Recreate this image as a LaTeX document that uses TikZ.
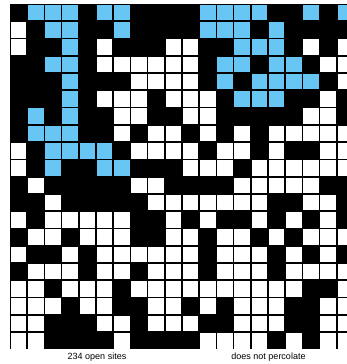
\documentclass[tikz,border=0pt]{standalone}
\usepackage{fontspec}
\setmainfont{Liberation Sans}
\definecolor{fullblue}{RGB}{103,198,243}
\begin{document}
\begin{tikzpicture}[x=1pt,y=-1pt,
  opencell/.style={fill=white},
  fullcell/.style={fill=fullblue},
  caption/.style={font=\fontsize{9}{10}\selectfont, inner sep=0pt, anchor=base}]
\useasboundingbox (0,0) rectangle (347,364);
\clip (0,0) rectangle (347,364);
\fill[black] (10,4) rectangle (360,349.4);
\def\px{17.2}
\def\py{17.27}
\foreach \r/\vals in {
 0/{0,2,2,2,0,2,2,0,0,0,0,2,2,2,2,0,0,2,0,2},
 1/{1,0,2,2,0,0,2,0,0,0,0,2,2,2,0,2,0,0,0,0},
 2/{1,0,0,2,0,1,0,0,0,1,1,0,0,2,2,2,0,1,0,1},
 3/{0,0,2,2,0,1,1,1,1,1,1,0,2,2,0,2,2,0,1,1},
 4/{0,0,0,2,0,0,0,1,1,1,1,0,2,0,2,2,2,2,0,1},
 5/{0,0,0,2,0,1,1,1,0,1,1,1,0,2,2,2,0,0,1,0},
 6/{0,2,0,2,0,0,1,1,0,0,1,1,0,0,0,0,0,1,1,0},
 7/{0,2,2,2,0,0,1,0,1,1,0,1,0,1,0,1,1,1,1,1},
 8/{1,0,2,2,2,2,0,1,1,1,1,0,1,1,0,1,0,0,1,1},
 9/{1,0,2,0,0,2,2,0,0,0,1,1,1,0,1,1,1,1,1,1},
 10/{0,1,0,0,0,0,0,1,1,0,0,0,0,1,1,1,1,1,0,0},
 11/{0,0,1,0,0,0,0,0,1,1,1,1,1,1,1,0,0,1,1,0},
 12/{1,0,1,1,1,1,1,0,0,1,0,1,0,0,1,0,1,0,1,0},
 13/{0,1,1,0,1,1,1,0,0,1,1,0,1,1,0,1,0,1,1,1},
 14/{1,0,0,1,0,1,1,1,1,1,1,0,1,1,1,0,1,0,1,0},
 15/{0,1,1,1,0,1,1,0,1,1,1,0,1,1,1,0,1,1,1,1},
 16/{1,1,0,1,1,1,0,1,1,1,1,1,1,1,1,1,1,0,0,1},
 17/{1,1,1,0,1,1,0,0,1,1,0,1,0,1,1,1,0,0,1,1},
 18/{1,1,0,0,0,1,1,0,1,1,1,0,0,1,1,1,0,0,1,1},
 19/{1,1,0,0,0,0,1,0,0,0,0,1,1,1,1,0,1,0,1,1}}{
  \foreach \v [count=\k from 0] in \vals {
    \pgfmathsetmacro\xa{10+\px*\k+0.85}
    \pgfmathsetmacro\ya{4+\py*\r+0.86}
    \pgfmathsetmacro\xb{10+\px*(\k+1)-0.85}
    \pgfmathsetmacro\yb{4+\py*(\r+1)-0.86}
    \ifcase\v\relax
    \or \fill[opencell] (\xa,\ya) rectangle (\xb,\yb);
    \or \fill[fullcell] (\xa,\ya) rectangle (\xb,\yb);
    \fi
  }
}
\node[caption] (sites) at (97,359.5) {234 open sites};
\node[caption] (perc) at (268.5,359.5) {does not percolate};
\end{tikzpicture}
\end{document}
